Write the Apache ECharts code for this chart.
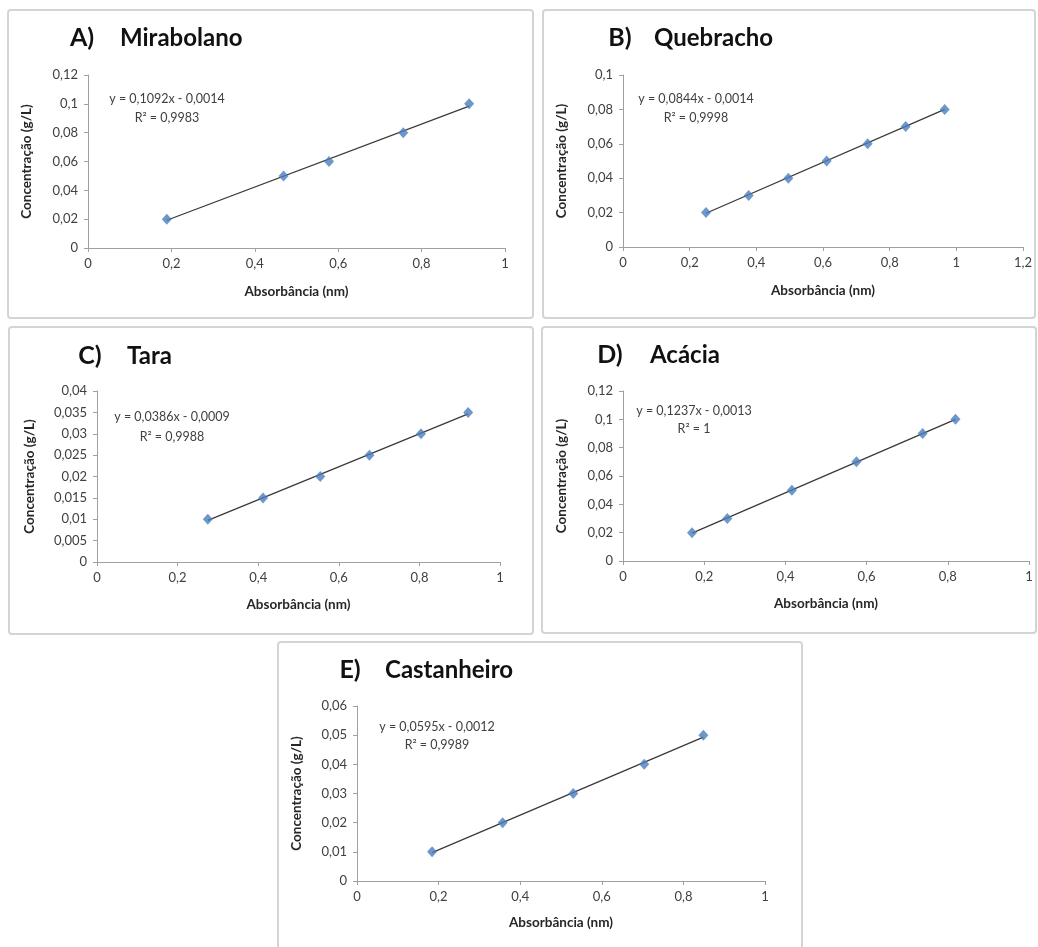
<!DOCTYPE html>
<html>
<head>
<meta charset="utf-8">
<script src="https://cdn.jsdelivr.net/npm/echarts@6/dist/echarts.min.js"></script>
<style>
html,body{margin:0;padding:0;background:#fff;}
#c{width:1038px;height:947px;}
</style>
</head>
<body>
<div id="c"></div>
<script>
// ---- Data ----
const panelLetters = ['A)', 'B)', 'C)', 'D)', 'E)'];
const panelNames = ['Mirabolano', 'Quebracho', 'Tara', 'Acácia', 'Castanheiro'];

const xA = [0.189, 0.469, 0.578, 0.756, 0.914];
const yA = [0.02, 0.05, 0.06, 0.08, 0.10];
const xB = [0.249, 0.377, 0.496, 0.611, 0.734, 0.848, 0.965];
const yB = [0.02, 0.03, 0.04, 0.05, 0.06, 0.07, 0.08];
const xC = [0.275, 0.412, 0.554, 0.676, 0.804, 0.921];
const yC = [0.010, 0.015, 0.020, 0.025, 0.030, 0.035];
const xD = [0.170, 0.257, 0.416, 0.575, 0.738, 0.819];
const yD = [0.02, 0.03, 0.05, 0.07, 0.09, 0.10];
const xE = [0.184, 0.357, 0.530, 0.704, 0.849];
const yE = [0.01, 0.02, 0.03, 0.04, 0.05];

// trend line coefficients (as printed on the chart)
const slopes = [0.1092, 0.0844, 0.0386, 0.1237, 0.0595];
const intercepts = [-0.0014, -0.0014, -0.0009, -0.0013, -0.0012];
const eqLabels = ['y = 0,1092x - 0,0014', 'y = 0,0844x - 0,0014', 'y = 0,0386x - 0,0009', 'y = 0,1237x - 0,0013', 'y = 0,0595x - 0,0012'];
const r2Labels = ['R² = 0,9983', 'R² = 0,9998', 'R² = 0,9988', 'R² = 1', 'R² = 0,9989'];

// axis ranges
const xMax = [1, 1.2, 1, 1, 1];
const xInterval = [0.2, 0.2, 0.2, 0.2, 0.2];
const yMax = [0.12, 0.1, 0.04, 0.12, 0.06];
const yInterval = [0.02, 0.02, 0.005, 0.02, 0.01];

const xTitle = 'Absorbância (nm)';
const yTitle = 'Concentração (g/L)';

// ---- Layout ----
const xsAll = [xA, xB, xC, xD, xE];
const ysAll = [yA, yB, yC, yD, yE];
const grids = [
  {left: 88, top: 75, width: 417, height: 173},
  {left: 623, top: 75, width: 400, height: 172},
  {left: 97, top: 391, width: 403, height: 171},
  {left: 623, top: 391, width: 406, height: 170},
  {left: 357, top: 706, width: 408, height: 175}
];
const boxes = [
  {x: 8, y: 10, w: 525, h: 308},
  {x: 543, y: 10, w: 492, h: 308},
  {x: 9, y: 327, w: 524, h: 307},
  {x: 542, y: 327, w: 494, h: 306},
  {x: 278, y: 642, w: 524, h: 310}
];
const letterPos = [[82, 38], [620, 38], [90, 356], [610, 355], [350, 670]];
const namePos = [[120, 38], [654, 38], [127, 356], [650, 355], [385, 670]];
const eqPos = [[167, 99], [696, 99], [172, 417], [694, 411], [437, 727]];
const eqGap = [19, 19, 20, 18, 18];
const yNameGap = [54, 54, 60, 54, 53];
const xNameGap = [37, 37, 36, 36, 35];

const FONT = 'Lato, "Open Sans", sans-serif';
const fmt = v => String(parseFloat(v.toFixed(4))).replace('.', ',');

const xAxes = [], yAxes = [], series = [], graphic = [];
for (let i = 0; i < 5; i++) {
  xAxes.push({
    type: 'value', gridIndex: i, min: 0, max: xMax[i], interval: xInterval[i],
    name: xTitle, nameLocation: 'middle', nameGap: xNameGap[i],
    nameTextStyle: {fontFamily: FONT, fontWeight: 'bold', fontSize: 13.5, color: '#262626'},
    axisLine: {show: true, lineStyle: {color: '#a0a0a0', width: 1}},
    axisTick: {show: true, length: 4, lineStyle: {color: '#a0a0a0'}},
    axisLabel: {fontFamily: FONT, fontSize: 13, color: '#404040', margin: 9, formatter: fmt},
    splitLine: {show: false}
  });
  yAxes.push({
    type: 'value', gridIndex: i, min: 0, max: yMax[i], interval: yInterval[i],
    name: yTitle, nameLocation: 'middle', nameGap: yNameGap[i],
    nameTextStyle: {fontFamily: FONT, fontWeight: 'bold', fontSize: 13.5, color: '#262626'},
    axisLine: {show: true, lineStyle: {color: '#a0a0a0', width: 1}},
    axisTick: {show: true, length: 4, lineStyle: {color: '#a0a0a0'}},
    axisLabel: {fontFamily: FONT, fontSize: 13, color: '#404040', margin: 10, formatter: fmt},
    splitLine: {show: false}
  });
  const xs = xsAll[i], ys = ysAll[i];
  const x0 = Math.min(...xs), x1 = Math.max(...xs);
  series.push({
    type: 'line', xAxisIndex: i, yAxisIndex: i, symbol: 'none', silent: true,
    lineStyle: {color: '#3a3a3a', width: 1.3},
    data: [[x0, slopes[i] * x0 + intercepts[i]], [x1, slopes[i] * x1 + intercepts[i]]],
    z: 2
  });
  series.push({
    type: 'scatter', xAxisIndex: i, yAxisIndex: i, symbol: 'diamond', symbolSize: [10, 11],
    itemStyle: {color: '#4a7ebb'},
    data: xs.map((x, k) => [x, ys[k]]),
    z: 3
  });
  const b = boxes[i];
  graphic.push({type: 'rect', shape: {x: b.x, y: b.y, width: b.w, height: b.h, r: 3},
    style: {fill: 'none', stroke: '#d4d4d4', lineWidth: 2}, z: -1});
  graphic.push({type: 'text', x: letterPos[i][0], y: letterPos[i][1],
    style: {text: panelLetters[i], font: 'bold 25px ' + FONT, fill: '#111111', align: 'center', verticalAlign: 'middle', textAlign: 'center', textVerticalAlign: 'middle'}});
  graphic.push({type: 'text', x: namePos[i][0], y: namePos[i][1],
    style: {text: panelNames[i], font: 'bold 24px ' + FONT, fill: '#111111', align: 'left', verticalAlign: 'middle', textAlign: 'left', textVerticalAlign: 'middle'}});
  graphic.push({type: 'text', x: eqPos[i][0], y: eqPos[i][1],
    style: {text: eqLabels[i], font: '12.5px ' + FONT, fill: '#404040', align: 'center', verticalAlign: 'middle', textAlign: 'center', textVerticalAlign: 'middle'}});
  graphic.push({type: 'text', x: eqPos[i][0], y: eqPos[i][1] + eqGap[i],
    style: {text: r2Labels[i], font: '12.5px ' + FONT, fill: '#404040', align: 'center', verticalAlign: 'middle', textAlign: 'center', textVerticalAlign: 'middle'}});
}

const chart = echarts.init(document.getElementById('c'), null, {renderer: 'canvas'});
chart.setOption({
  animation: false,
  backgroundColor: '#ffffff',
  grid: grids,
  xAxis: xAxes,
  yAxis: yAxes,
  series: series,
  graphic: graphic
});
</script>
</body>
</html>
